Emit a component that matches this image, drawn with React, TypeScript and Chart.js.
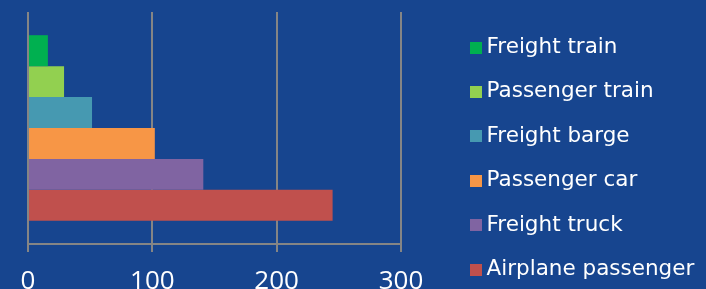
import React, { useEffect, useRef } from 'react';
import { Chart, registerables } from 'chart.js';

Chart.register(...registerables);

const categories = [''];
const seriesNames = [
  'Freight train',
  'Passenger train',
  'Freight barge',
  'Passenger car',
  'Freight truck',
  'Airplane passenger',
];
const seriesValues = [16, 29, 51.5, 102, 141, 245];
const seriesColors = ['#00b050', '#92d050', '#4699b1', '#f79646', '#8064a2', '#c0504d'];
const xTickValues = [0, 100, 200, 300];

const BG = '#17458f';
const GRID = '#858585';
const W = 706;
const H = 317;
const LEGEND_FONT = 21.5;
const LEGEND_PAD = 22.9;
const BOX_W = 0.01;

function swatch(color: string) {
  const c = document.createElement('canvas');
  c.width = 12;
  c.height = 12;
  const g = c.getContext('2d')!;
  g.fillStyle = color;
  g.fillRect(0, 0, 12, 12);
  return c;
}

export default function App() {
  const ref = useRef<HTMLCanvasElement>(null);

  useEffect(() => {
    document.body.style.margin = '0';
    document.body.style.overflow = 'hidden';
    document.documentElement.style.overflow = 'hidden';
    document.body.style.background = BG;

    const m = document.createElement('canvas').getContext('2d')!;
    m.font = `${LEGEND_FONT}px "DejaVu Sans"`;
    const tw = Math.max(...seriesNames.map((n) => m.measureText(n).width));
    const legendW = LEGEND_PAD + BOX_W + LEGEND_FONT / 2 + tw + 10;
    const wantTextX = 486.5;
    const legendLeft = wantTextX - LEGEND_FONT / 2 - BOX_W - LEGEND_PAD;
    const padRight = W - legendLeft - legendW;
    const chartRight = 401;
    const dummyW = legendLeft - chartRight;

    const swatches = seriesColors.map(swatch);

    const bgPlugin = {
      id: 'bg',
      beforeDraw(chart: any) {
        const { ctx } = chart;
        ctx.save();
        ctx.fillStyle = BG;
        ctx.fillRect(0, 0, chart.width, chart.height);
        ctx.restore();
      },
    };

    const chart = new Chart(ref.current!, {
      type: 'bar',
      data: {
        labels: categories,
        datasets: seriesNames.map((name, i) => ({
          label: name,
          data: [seriesValues[i]],
          backgroundColor: seriesColors[i],
          borderWidth: 0,
          categoryPercentage: 0.8,
          barPercentage: 1.0,
        })),
      },
      options: {
        indexAxis: 'y',
        animation: false,
        responsive: false,
        events: [],
        layout: { padding: { right: padRight } },
        plugins: {
          tooltip: { enabled: false },
          legend: {
            position: 'right',
            align: 'center',
            maxWidth: 500,
            labels: {
              color: '#ffffff',
              font: { family: '"DejaVu Sans"', size: LEGEND_FONT },
              padding: LEGEND_PAD,
              usePointStyle: true,
              boxWidth: BOX_W,
              boxHeight: 12,
              generateLabels: (c: any) =>
                (Chart as any).defaults.plugins.legend.labels
                  .generateLabels(c)
                  .map((it: any, i: number) => ({ ...it, pointStyle: swatches[i] })),
            },
          },
        },
        scales: {
          x: {
            type: 'linear',
            position: 'bottom',
            min: 0,
            max: 300,
            afterBuildTicks: (s: any) => {
              s.ticks = xTickValues.map((v) => ({ value: v }));
            },
            afterFit: (s: any) => {
              s.height = H - 244;
            },
            grid: {
              color: GRID,
              lineWidth: 2,
              drawTicks: true,
              tickLength: 8,
            },
            border: { display: true, color: GRID, width: 2 },
            ticks: {
              color: '#ffffff',
              padding: 14,
              font: { family: '"Open Sans"', size: 26 },
            },
          },
          xTop: {
            type: 'linear',
            axis: 'x',
            position: 'top',
            display: true,
            grid: { display: false },
            border: { display: false },
            ticks: { display: false },
            afterFit: (s: any) => {
              s.height = 12;
            },
          },
          y: {
            type: 'category',
            position: 'left',
            grid: { display: false },
            border: { display: false },
            ticks: { display: false },
            afterFit: (s: any) => {
              s.width = 28;
            },
          },
          yRight: {
            type: 'linear',
            axis: 'y',
            position: 'right',
            display: true,
            grid: { display: false },
            border: { display: false },
            ticks: { display: false },
            afterFit: (s: any) => {
              s.width = dummyW;
            },
          },
        },
      } as any,
      plugins: [bgPlugin],
    });
    return () => chart.destroy();
  }, []);

  return <canvas ref={ref} width={W} height={H} style={{ display: 'block' }} />;
}
